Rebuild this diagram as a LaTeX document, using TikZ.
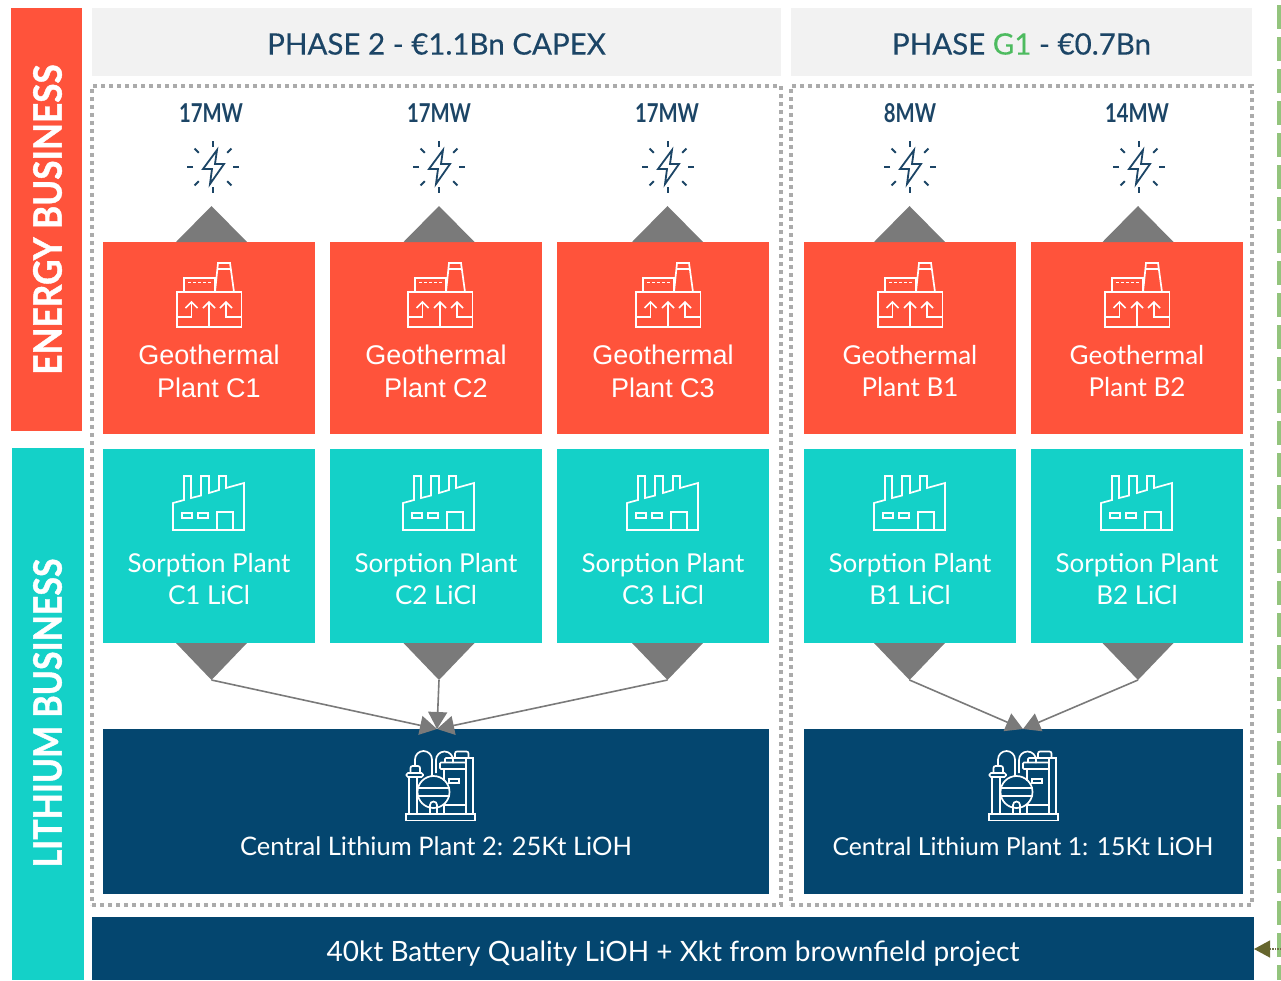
\documentclass[tikz,border=0pt]{standalone}
\usepackage{fontspec}
\usepackage{xcolor}
\usetikzlibrary{arrows.meta}
\setmainfont{Lato}
\newfontfamily\arialface{Liberation Sans}
\newfontfamily\medface[FakeBold=0.3]{Lato}
\newfontfamily\sideface[FakeBold=1.2]{Lato Bold}
\definecolor{redbox}{HTML}{FF533B}
\definecolor{tealbox}{HTML}{14D1C8}
\definecolor{navybox}{HTML}{04466F}
\definecolor{headbg}{HTML}{F2F2F2}
\definecolor{headtxt}{HTML}{1C4566}
\definecolor{triangray}{HTML}{7A7A7A}
\definecolor{dotgray}{HTML}{ABABAB}
\definecolor{phasegreen}{HTML}{4DBB5F}
\definecolor{olivetip}{HTML}{66662E}
\definecolor{dashgreen}{HTML}{93C47D}
\newcommand{\fsize}[1]{\fontsize{#1}{#1}\selectfont}
\newcommand{\tight}[2]{\scalebox{#1}[1]{#2}}
\tikzset{
  geoicon/.pic={
    \draw[icon] (0,29) rectangle (64.5,64);
    \draw[icon] (7,29) -- (7,15) -- (38,15) -- (38,29);
    \draw[icon,densely dashed] (11,19.5) -- (34,19.5);
    \draw[icon] (38,29) -- (41,0) -- (53,0) -- (57,29);
    \draw[icon] (40.5,6) -- (53.5,6);
    \draw[icon] (32,64) -- (32,39);
    \draw[icon] (26,45) -- (32,39) -- (38,45);
    \draw[icon] (0,54) -- (14.5,54) -- (14.5,39);
    \draw[icon] (8.5,45) -- (14.5,39) -- (20.5,45);
    \draw[icon] (64.5,54) -- (49,54) -- (49,39);
    \draw[icon] (43,45) -- (49,39) -- (55,45);
  },
  sorpicon/.pic={
    \draw[icon] (0,54) -- (0,27) -- (11,24) -- (11,0) -- (18,0) -- (18,22) -- (28,19.5) -- (28,0) -- (36,0) -- (36,17) -- (46,14) -- (46,0) -- (53,0) -- (53,12) -- (71,7) -- (71,54) -- cycle;
    \draw[icon] (9,37) rectangle (19,42);
    \draw[icon] (25,37) rectangle (35,42);
    \draw[icon] (44,54) -- (44,36) -- (60,36) -- (60,54);
  },
  chemicon/.pic={
    \draw[icon] (0,63) rectangle (69,69.5);
    \draw[icon] (3,63) -- (3,26) (11,26) -- (11,63);
    \draw[icon,rounded corners=1.5pt] (0.5,22) rectangle (17,26);
    \draw[icon,rounded corners=2pt] (4.5,22) -- (4.5,15) -- (14,15) -- (14,22);
    \draw[icon] (9,15) -- (9,8.5) arc (180:360:8.5) -- (26,25);
    \draw[icon] (30,22) -- (30,9) arc (180:360:8.5 and 8.5) -- (47,12);
    \draw[icon] (27.5,41) circle (16);
    \draw[icon] (11.5,37) -- (43.5,37) (11.5,45) -- (43.5,45);
    \draw[icon] (24,63) -- (24,54) arc (180:360:3.5) -- (31,63);
    \draw[icon] (38,18) -- (38,30) (38,54) -- (38,63) (60,18) -- (60,63);
    \draw[icon,rounded corners=1pt] (34,11.5) rectangle (60,18);
    \draw[icon,rounded corners=1pt] (39,11.5) -- (39,7) -- (60,7);
    \draw[icon,rounded corners=2pt] (49,7) -- (49,0.5) -- (62.5,0.5) -- (62.5,7);
    \draw[icon] (60,7) rectangle (67,63);
    \draw[icon] (43,28) rectangle (53,32);
    \draw[icon] (38,54) -- (60,54);
  },
  bolticon/.pic={
    \draw[bolt,line join=miter] (4,-17) -- (-10,2) -- (-1,2) -- (-3,17) -- (11,-3) -- (2,-3) -- cycle;
    \foreach \ang in {0,45,...,315}
      \draw[bolt] (\ang:20) -- (\ang:26);
  }
}
\begin{document}
\begin{tikzpicture}[x=1pt,y=-1pt,
    box/.style={anchor=north west,inner sep=0pt,outer sep=0pt,minimum height=#1},
    redplant/.style={box=192pt,fill=redbox,minimum width=212pt},
    tealplant/.style={box=194pt,fill=tealbox,minimum width=212pt},
    navyplant/.style={box=165pt,fill=navybox},
    headbox/.style={box=68pt,fill=headbg},
    headlabel/.style={text=headtxt,font=\fsize{29.5}\medface},
    dotframe/.style={box=819pt,draw=dotgray,line width=3.5pt,dash pattern=on 4pt off 4pt},
    sidebar/.style={anchor=north west,inner sep=0pt,outer sep=0pt},
    sidetxt/.style={rotate=90,text=white,font=\fsize{39}\sideface},
    boxtxt/.style={text=white,align=center,inner sep=0pt},
    icon/.style={draw=white,line width=1.7pt},
    bolt/.style={draw=headtxt,line width=1.8pt},
    tri/.style={fill=triangray},
    feed/.style={draw=triangray,line width=1.6pt,-{Triangle[length=17pt,width=19pt]}}]
  \useasboundingbox (0,0) rectangle (1281,980);

  \node[sidebar,fill=redbox,minimum width=71pt,minimum height=423pt] (energybar) at (11,8) {};
  \node[sidebar,fill=tealbox,minimum width=72pt,minimum height=532pt] (lithiumbar) at (12,448) {};
  \node[sidetxt] (energytxt) at (47.5,219.5) {\tight{0.90}{ENERGY BUSINESS}};
  \node[sidetxt] (lithiumtxt) at (47.5,713) {\tight{0.87}{LITHIUM BUSINESS}};

  \node[headbox,minimum width=689pt] (headtwo) at (92,8) {};
  \node[headbox,minimum width=461pt] (headone) at (791,8) {};
  \node[headlabel] (headtwotxt) at (436.5,44) {PHASE 2 - €1.1Bn CAPEX};
  \node[headlabel] (headonetxt) at (1021.5,44) {PHASE \textcolor{phasegreen}{G1} - €0.7Bn};
  \node[dotframe,minimum width=689pt] (frametwo) at (92,86) {};
  \node[dotframe,minimum width=461pt] (frameone) at (791,86) {};

  \foreach \n/\mwx/\bltx/\mw in {C1/211/213/17MW,C2/439/439/17MW,C3/667/668/17MW,B1/910/910/8MW,B2/1137/1139/14MW}{
    \node[text=headtxt,font=\fsize{26}\bfseries] (mw\n) at (\mwx,113) {\tight{0.78}{\mw}};
    \pic (bolt\n) at (\bltx,167) {bolticon};
  }
  \foreach \n/\bx/\cx/\gx/\sx/\gf in {
      C1/103/211.5/177/173/\fsize{27}\arialface,
      C2/330/439/408/403/\fsize{27}\arialface,
      C3/557/667.5/636/627/\fsize{27}\arialface,
      B1/804/909.5/878/874/\fsize{26}\normalfont,
      B2/1031/1138/1105/1101/\fsize{26}\normalfont}{
    \node[redplant] (geo\n) at (\bx,242) {};
    \node[tealplant] (sorp\n) at (\bx,449) {};
    \fill[tri] (\cx-35.5,242) -- (\cx,206) -- (\cx+35.5,242) -- cycle;
    \fill[tri] (\cx-35.5,643) -- (\cx,680) -- (\cx+35.5,643) -- cycle;
    \coordinate (apex\n) at (\cx,680);
    \pic (geoicon\n) at (\gx,263) {geoicon};
    \pic (sorpicon\n) at (\sx,476) {sorpicon};
    \node[boxtxt,font=\gf] (geotxt\n) at (\bx+106,371.5) {Geothermal\\[6pt]Plant \n};
    \node[boxtxt,font=\fsize{26}] (sorptxt\n) at (\bx+106,579.5) {Sorption Plant\\[6pt]\n{} LiCl};
  }

  \node[navyplant,minimum width=666pt] (centraltwo) at (103,729) {};
  \node[navyplant,minimum width=439pt] (centralone) at (804,729) {};
  \pic (chemtwo) at (406,751) {chemicon};
  \pic (chemone) at (989,751) {chemicon};
  \node[boxtxt,font=\fsize{25.5}] (centraltwotxt) at (436,846) {Central Lithium Plant 2: 25Kt LiOH};
  \node[boxtxt,font=\fsize{24.8}] (centralonetxt) at (1023,846) {Central Lithium Plant 1: 15Kt LiOH};

  \coordinate (tiptwo) at (437,729);
  \coordinate (tipone) at (1023,729);
  \draw[feed] (apexC1) -- (tiptwo);
  \draw[feed] (apexC2) -- (tiptwo);
  \draw[feed] (apexC3) -- (tiptwo);
  \draw[feed] (apexB1) -- (tipone);
  \draw[feed] (apexB2) -- (tipone);

  \node[box=63pt,fill=navybox,minimum width=1162pt] (battery) at (92,917) {};
  \node[boxtxt,font=\fsize{28}] (batterytxt) at (673,954) {40kt Battery Quality LiOH + Xkt from brownfield project};

  \coordinate (greentop) at (1279,5);
  \coordinate (greenend) at (1279,980);
  \draw[draw=dashgreen,line width=4pt,dash pattern=on 23.5pt off 8.5pt] (greentop) -- (greenend);
  \coordinate (feedin) at (1281,949);
  \draw[draw=olivetip!70!gray,line width=1.4pt,densely dotted,-{Triangle[length=16pt,width=17pt,color=olivetip]}] (feedin) -- (battery.east |- feedin);
\end{tikzpicture}
\end{document}
